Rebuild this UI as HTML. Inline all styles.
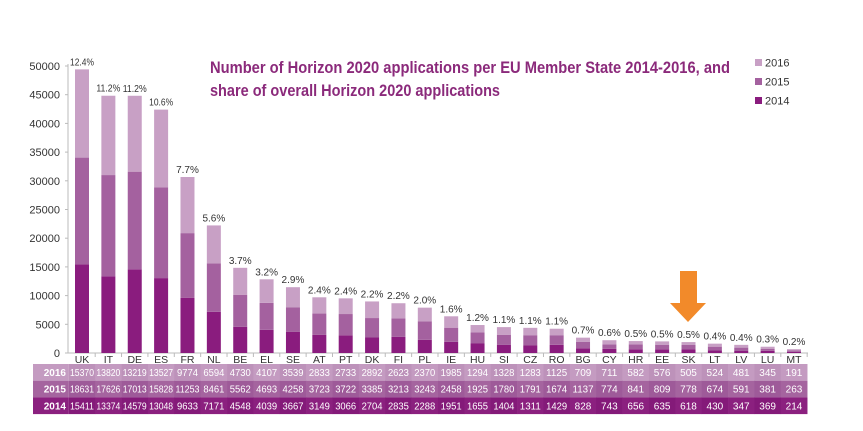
<!DOCTYPE html>
<html><head><meta charset="utf-8"><style>
body{margin:0;background:#fff;}
svg{display:block;font-family:"Liberation Sans","DejaVu Sans",sans-serif;}
</style></head><body>
<svg id="s" width="863" height="431" viewBox="0 0 863 431"></svg>
<script>
const c=["UK","IT","DE","ES","FR","NL","BE","EL","SE","AT","PT","DK","FI","PL","IE","HU","SI","CZ","RO","BG","CY","HR","EE","SK","LT","LV","LU","MT"];
const a16=[15370,13820,13219,13527,9774,6594,4730,4107,3539,2833,2733,2892,2623,2370,1985,1294,1328,1283,1125,709,711,582,576,505,524,481,345,191];
const a15=[18631,17626,17013,15828,11253,8461,5562,4693,4258,3723,3722,3385,3213,3243,2458,1925,1780,1791,1674,1137,774,841,809,778,674,591,381,263];
const a14=[15411,13374,14579,13048,9633,7171,4548,4039,3667,3149,3066,2704,2835,2288,1951,1655,1404,1311,1429,828,743,656,635,618,430,347,369,214];
const pc=["12.4%","11.2%","11.2%","10.6%","7.7%","5.6%","3.7%","3.2%","2.9%","2.4%","2.4%","2.2%","2.2%","2.0%","1.6%","1.2%","1.1%","1.1%","1.1%","0.7%","0.6%","0.5%","0.5%","0.5%","0.4%","0.4%","0.3%","0.2%"];
const y0=353,sc=287/50000,x0=82,dx=26.37,bw=14;
let h='';
for(let v=0;v<=50000;v+=5000){const y=y0-v*sc;h+=`<text x="60" y="${y+4}" font-size="11" fill="#333" text-anchor="end">${v}</text><line x1="65" x2="68" y1="${y}" y2="${y}" stroke="#bbb"/>`;}
h+=`<line x1="68" x2="68" y1="64" y2="${y0}" stroke="#bbb"/><line x1="68" x2="808" y1="${y0}" y2="${y0}" stroke="#bbb"/>`;
c.forEach((n,i)=>{const cx=x0+i*dx,x=cx-bw/2;
let y=y0;const segs=[[a14[i],"#8a1c7e"],[a15[i],"#a4619f"],[a16[i],"#c8a0c5"]];
segs.forEach(([v,col])=>{const hh=v*sc;y-=hh;h+=`<rect x="${x}" y="${y}" width="${bw}" height="${hh}" fill="${col}"/>`;});
const tl=pc[i].length>4?' textLength="24" lengthAdjust="spacingAndGlyphs"':'';
h+=`<text x="${cx}" y="${y-4}" font-size="10" fill="#333" text-anchor="middle"${tl}>${pc[i]}</text>`;
h+=`<line x1="${cx+dx/2}" x2="${cx+dx/2}" y1="${y0}" y2="${y0+4}" stroke="#bbb"/>`;
h+=`<text x="${cx}" y="${y0+10}" font-size="10.5" fill="#333" text-anchor="middle">${n}</text>`;
});
const rows=[["2016",a16,"#c49bc1","#bd92ba"],["2015",a15,"#a5649f","#9e5a99"],["2014",a14,"#8b207f","#841a79"]];
rows.forEach(([lab,arr,c1,c2],r)=>{const y=364+r*16.7;
h+=`<rect x="33" y="${y}" width="${x0-dx/2-33}" height="16.7" fill="${c1}"/>`;
h+=`<text x="66" y="${y+12}" font-size="10" fill="#fff" text-anchor="end" font-weight="bold">${lab}</text>`;
arr.forEach((v,i)=>{const cx=x0+i*dx;const s=String(v);const tl=s.length==5?' textLength="24" lengthAdjust="spacingAndGlyphs"':(s.length==4?' textLength="21" lengthAdjust="spacingAndGlyphs"':'');
h+=`<rect x="${cx-dx/2}" y="${y}" width="${dx+0.3}" height="16.7" fill="${i%2?c1:c2}"/><text x="${cx}" y="${y+12}" font-size="10" fill="#fff" text-anchor="middle"${tl}>${v}</text>`;});
});
h+=`<text x="210" y="73" font-size="16.5" fill="#8b2a7b" font-weight="bold" textLength="520" lengthAdjust="spacingAndGlyphs">Number of Horizon 2020 applications per EU Member State 2014-2016, and</text>`;
h+=`<text x="210" y="96" font-size="16.5" fill="#8b2a7b" font-weight="bold" textLength="290" lengthAdjust="spacingAndGlyphs">share of overall Horizon 2020 applications</text>`;
[["2016","#c8a0c5"],["2015","#a4619f"],["2014","#8a1c7e"]].forEach(([t,col],i)=>{const y=62+i*19;h+=`<rect x="755" y="${y-3}" width="7" height="7" fill="${col}"/><text x="765" y="${y+4.5}" font-size="11" fill="#333">${t}</text>`;});
h+=`<polygon points="680,271 697,271 697,303 706,303 688,322 670,303 680,303" fill="#f28a2a"/>`;
document.getElementById('s').innerHTML=h;
</script>
</body></html>
